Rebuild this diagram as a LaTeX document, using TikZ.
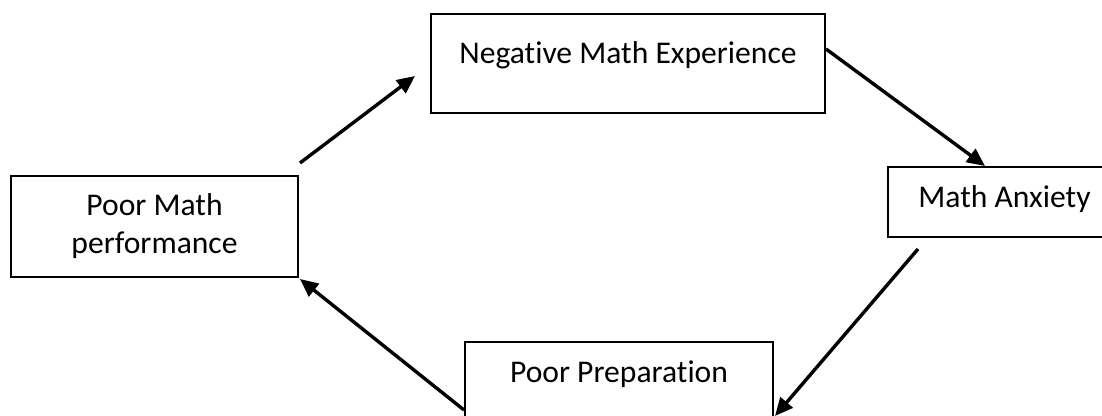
\documentclass[tikz,border=0pt]{standalone}
\usepackage{fontspec}
\setmainfont{Carlito}[Ligatures=NoCommon]
\usetikzlibrary{arrows.meta}

\begin{document}
\begin{tikzpicture}
		[
			x=0.5pt, y=-0.5pt,
			stage/.style={rectangle, draw, line width=1pt, inner sep=0pt, align=center, anchor=north west,
				font=\fontsize{15.8}{19}\selectfont},
			link/.style={line width=1.7pt, -{Triangle[length=9pt, width=8pt]}},
		]

		\useasboundingbox (0,0) rectangle (1102,416);

		% Nodes
		\node[stage, minimum width=197pt, text height=25pt, text depth=24.5pt] (neg) at (430,13) {Negative Math Experience};
		\node[stage, minimum width=116.5pt, text height=20.5pt, text depth=14.5pt] (anx) at (887,166) {Math Anxiety};
		\node[stage, minimum width=154pt, text height=20.5pt, text depth=21.5pt] (prep) at (464,341) {Poor Preparation};
		\node[stage, minimum width=143.5pt, minimum height=50.5pt] (perf) at (10,175) {Poor Math\\performance};

		% Arrow ends
		\coordinate (perf-out) at ([shift={(1,-12)}]perf.north east);
		\coordinate (neg-in)   at ([shift={(-15,12.5)}]neg.west);
		\coordinate (neg-out)  at ([shift={(0,-14.5)}]neg.east);
		\coordinate (anx-in)   at ([shift={(98,0)}]anx.north west);
		\coordinate (anx-out)  at ([shift={(31,11)}]anx.south west);
		\coordinate (prep-in)  at ([shift={(1,-11)}]prep.south east);
		\coordinate (prep-out) at ([shift={(0,-17)}]prep.south west);
		\coordinate (perf-in)  at ([shift={(1,1)}]perf.south east);

		% Cycle
		\foreach \u/\v in
		{
			perf-out/neg-in,
			neg-out/anx-in,
			anx-out/prep-in,
			prep-out/perf-in}
			\draw[link] (\u) -- (\v);

		\end{tikzpicture}
\end{document}
